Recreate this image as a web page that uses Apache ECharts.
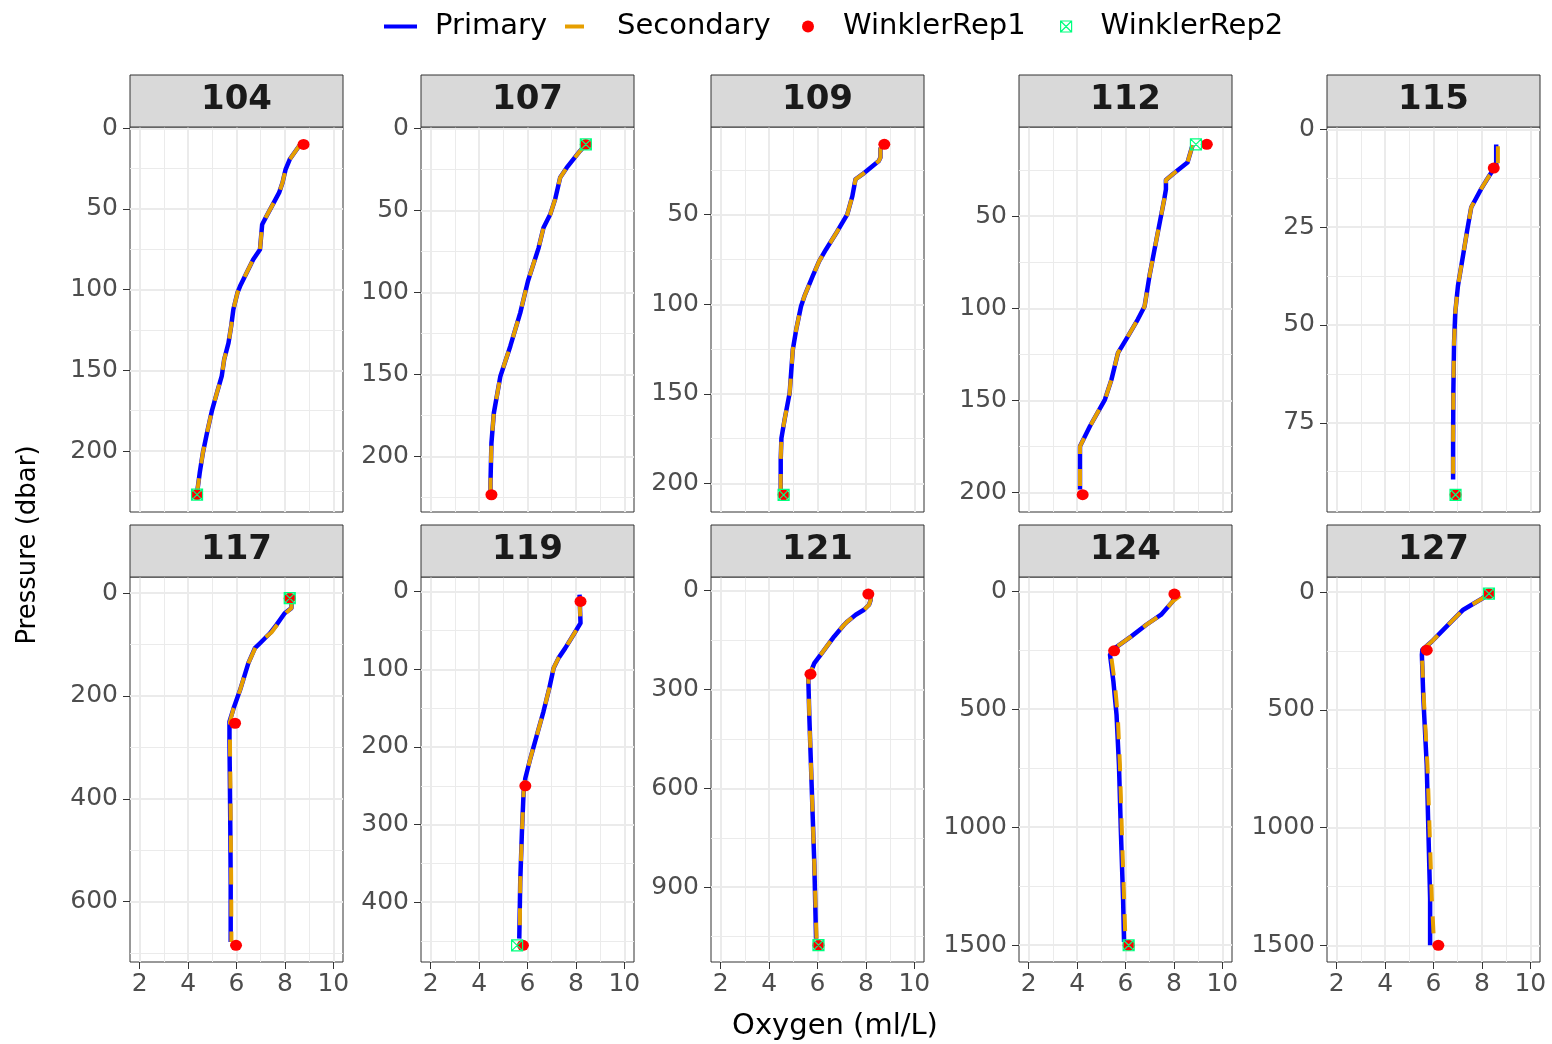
<!DOCTYPE html>
<html>
<head>
<meta charset="utf-8">
<script src="https://cdn.jsdelivr.net/npm/echarts@6/dist/echarts.min.js"></script>
<style>
html,body{margin:0;padding:0;background:#ffffff;}
#chart{width:1552px;height:1044px;}
</style>
</head>
<body>
<div id="chart"></div>
<script>
// ---------------- DATA ----------------
const stations = ['104','107','109','112','115','117','119','121','124','127'];

// Primary sensor profiles: [oxygen (ml/L), pressure (dbar)]
const primary104 = [[8.61,10.5],[8.20,19.2],[8.03,25.4],[7.90,33.7],[7.76,39.9],[7.54,46.1],[7.24,54.4],[7.06,59.6],[6.97,75.1],[6.69,81.3],[6.42,89.5],[6.15,97.8],[6.04,101.9],[5.87,112.3],[5.78,122.6],[5.67,133],[5.49,143.3],[5.39,153.6],[5.19,164],[4.98,175.3],[4.78,188.8],[4.61,201.2],[4.48,213.6],[4.37,226]];
const primary107 = [[8.41,9.8],[8.17,13.8],[7.62,24],[7.35,30],[7.14,43.3],[6.94,52.4],[6.66,60.6],[6.46,72.8],[6.02,93],[5.70,112.4],[5.29,132.7],[4.88,151],[4.61,173.4],[4.51,191.7],[4.47,216],[4.47,222]];
const primary109 = [[8.60,12.5],[8.60,18.1],[8.53,20],[7.85,27.5],[7.57,30.2],[7.44,39.6],[7.23,49.8],[6.82,59.2],[6.35,69.4],[6.07,75.9],[5.80,84.3],[5.46,95.5],[5.32,101.1],[5.12,114.1],[4.98,125.3],[4.85,149.5],[4.64,164.4],[4.51,174.7],[4.48,186.8],[4.48,203.6]];
const primary112 = [[8.77,11.6],[8.56,21.0],[7.95,27.3],[7.67,30.4],[7.67,35.5],[7.60,40.9],[7.44,51.8],[7.20,68.1],[6.99,82.5],[6.79,98.9],[6.51,106],[6.10,115.2],[5.69,124.2],[5.42,138.7],[5.15,149.5],[4.53,164],[4.12,174.9],[4.12,198.3]];
const primary115 = [[8.59,3.9],[8.59,9.2],[8.31,11.8],[7.97,15.2],[7.56,19.9],[7.40,25.5],[7.22,32.3],[7.01,40],[6.90,46.8],[6.85,54.5],[6.82,67.3],[6.81,80.1],[6.81,89.5]];
const primary117 = [[8.22,10],[8.27,19.5],[8.27,29],[7.99,39],[7.65,61.7],[7.38,78],[6.97,97.4],[6.76,107],[6.49,136],[6.15,188],[5.88,224],[5.71,250],[5.71,289],[5.74,432],[5.76,562],[5.76,678.6]];
const primary119 = [[8.15,3.9],[8.19,40.4],[7.90,55.5],[7.56,72.7],[7.28,85.6],[7.08,98.3],[6.90,124.3],[6.66,154.4],[6.39,184.5],[6.12,214.6],[5.91,240.4],[5.84,257.6],[5.77,309.2],[5.70,373.8],[5.66,446.9]];
const primary121 = [[8.15,12],[8.20,27.4],[8.13,42.6],[7.92,57.8],[7.58,73],[7.24,93.2],[7.10,103.4],[6.69,138.8],[6.28,179.4],[5.87,220],[5.62,265.5],[5.66,377],[5.73,529],[5.80,681],[5.87,833],[5.94,1056]];
const primary124 = [[8.05,15],[7.95,42.5],[7.47,99],[6.86,141.6],[6.24,191],[5.56,240.8],[5.36,269],[5.50,382],[5.63,524],[5.73,736.5],[5.81,1020],[5.90,1303],[5.94,1487]];
const primary127 = [[8.20,12],[8.05,25.5],[7.70,46.8],[7.23,75],[6.88,110.6],[6.34,167],[5.93,210],[5.54,245],[5.52,266.6],[5.58,451],[5.72,734.5],[5.79,1018],[5.86,1301.6],[5.86,1500]];

// Secondary sensor profiles
const secondary104 = [[8.61,10.5],[8.20,19.2],[8.03,25.4],[7.90,33.7],[7.76,39.9],[7.54,46.1],[7.24,54.4],[7.06,59.6],[6.97,75.1],[6.69,81.3],[6.42,89.5],[6.15,97.8],[6.04,101.9],[5.87,112.3],[5.78,122.6],[5.67,133],[5.49,143.3],[5.39,153.6],[5.19,164],[4.98,175.3],[4.78,188.8],[4.61,201.2],[4.48,213.6],[4.37,226]];
const secondary107 = [[8.41,9.8],[8.17,13.8],[7.62,24],[7.35,30],[7.14,43.3],[6.94,52.4],[6.66,60.6],[6.46,72.8],[6.02,93],[5.70,112.4],[5.29,132.7],[4.88,151],[4.61,173.4],[4.51,191.7],[4.47,216],[4.47,222]];
const secondary109 = [[8.60,12.5],[8.60,18.1],[8.53,20],[7.85,27.5],[7.57,30.2],[7.44,39.6],[7.23,49.8],[6.82,59.2],[6.35,69.4],[6.07,75.9],[5.80,84.3],[5.46,95.5],[5.32,101.1],[5.12,114.1],[4.98,125.3],[4.85,149.5],[4.64,164.4],[4.51,174.7],[4.48,186.8],[4.48,203.6]];
const secondary112 = [[8.77,11.6],[8.56,21.0],[7.95,27.3],[7.67,30.4],[7.67,35.5],[7.60,40.9],[7.44,51.8],[7.20,68.1],[6.99,82.5],[6.79,98.9],[6.51,106],[6.10,115.2],[5.69,124.2],[5.42,138.7],[5.15,149.5],[4.53,164],[4.12,174.9],[4.12,198.3]];
const secondary115 = [[8.66,4.3],[8.66,9.5],[8.31,11.8],[7.97,15.2],[7.56,19.9],[7.40,25.5],[7.22,32.3],[7.01,40],[6.90,46.8],[6.85,54.5],[6.82,67.3],[6.81,80.1],[6.81,89.5]];
const secondary117 = [[8.22,10],[8.27,19.5],[8.27,29],[8.05,38],[7.75,57],[7.45,76],[7.10,90],[6.80,104],[6.49,136],[6.15,188],[5.88,224],[5.73,250],[5.73,289],[5.76,432],[5.78,562],[5.79,678.6]];
const secondary119 = [[8.15,10],[8.19,40.4],[7.90,55.5],[7.56,72.7],[7.28,85.6],[7.08,98.3],[6.90,124.3],[6.66,154.4],[6.39,184.5],[6.12,214.6],[5.91,240.4],[5.84,257.6],[5.77,309.2],[5.70,373.8],[5.68,446.9]];
const secondary121 = [[8.15,12],[8.20,27.4],[8.13,42.6],[7.92,57.8],[7.58,73],[7.24,93.2],[7.10,103.4],[6.69,138.8],[6.28,179.4],[5.87,220],[5.62,265.5],[5.66,377],[5.73,529],[5.80,681],[5.87,833],[5.96,1056]];
const secondary124 = [[8.27,18],[7.95,42.5],[7.47,99],[6.86,141.6],[6.24,191],[5.56,240.8],[5.40,269],[5.55,382],[5.68,524],[5.77,736.5],[5.85,1020],[5.94,1303],[6.00,1487]];
const secondary127 = [[8.20,12],[8.05,25.5],[7.70,46.8],[7.23,75],[6.88,110.6],[6.34,167],[5.93,210],[5.54,245],[5.52,266.6],[5.60,451],[5.75,734.5],[5.84,1018],[5.93,1301.6],[6.02,1490]];

// Winkler titration replicates
const rep1_104 = [[8.77,10],[4.37,227]];
const rep2_104 = [[4.37,227]];
const rep1_107 = [[8.41,9.8],[4.51,223.2]];
const rep2_107 = [[8.41,9.8]];
const rep1_109 = [[8.76,10.7],[4.60,206.4]];
const rep2_109 = [[4.60,206.4]];
const rep1_112 = [[9.36,11.1],[4.23,201.1]];
const rep2_112 = [[8.91,11.1]];
const rep1_115 = [[8.49,9.9],[6.91,93.4]];
const rep2_115 = [[6.91,93.4]];
const rep1_117 = [[8.20,9.7],[5.94,253],[5.98,685]];
const rep2_117 = [[8.20,9.7]];
const rep1_119 = [[8.19,12.5],[5.91,250],[5.81,455.5]];
const rep2_119 = [[5.57,455.5]];
const rep1_121 = [[8.10,10.1],[5.71,253.4],[6.04,1076]];
const rep2_121 = [[6.04,1076]];
const rep1_124 = [[8.02,11.3],[5.53,252],[6.13,1501]];
const rep2_124 = [[6.13,1501]];
const rep1_127 = [[8.29,7.1],[5.72,247],[6.20,1500]];
const rep2_127 = [[8.29,7.1]];

// Tick labels
const xTicks = [2,4,6,8,10];
const xMinor = [3,5,7,9];
const yTicks104 = [0,50,100,150,200];   const yMinor104 = [25,75,125,175,225];
const yTicks107 = [0,50,100,150,200];   const yMinor107 = [25,75,125,175,225];
const yTicks109 = [50,100,150,200];     const yMinor109 = [25,75,125,175];
const yTicks112 = [50,100,150,200];     const yMinor112 = [25,75,125,175];
const yTicks115 = [0,25,50,75];         const yMinor115 = [12.5,37.5,62.5,87.5];
const yTicks117 = [0,200,400,600];      const yMinor117 = [100,300,500,700];
const yTicks119 = [0,100,200,300,400];  const yMinor119 = [50,150,250,350,450];
const yTicks121 = [0,300,600,900];      const yMinor121 = [150,450,750,1050];
const yTicks124 = [0,500,1000,1500];    const yMinor124 = [250,750,1250];
const yTicks127 = [0,500,1000,1500];    const yMinor127 = [250,750,1250];

// Axis limits (with ggplot-style expansion)
const xLimits = [1.6, 10.4];
const yMinList = [-0.8, -0.8, 1.0, 1.7, -0.6, -31.5, -18.9, -41.6, -60.9, -63.8];
const yMaxList = [237.8, 233.7, 216.0, 210.5, 97.8, 717.5, 477.0, 1127.0, 1572.0, 1571.0];

const primaryList   = [primary104, primary107, primary109, primary112, primary115, primary117, primary119, primary121, primary124, primary127];
const secondaryList = [secondary104, secondary107, secondary109, secondary112, secondary115, secondary117, secondary119, secondary121, secondary124, secondary127];
const rep1List = [rep1_104, rep1_107, rep1_109, rep1_112, rep1_115, rep1_117, rep1_119, rep1_121, rep1_124, rep1_127];
const rep2List = [rep2_104, rep2_107, rep2_109, rep2_112, rep2_115, rep2_117, rep2_119, rep2_121, rep2_124, rep2_127];
const yTickList  = [yTicks104, yTicks107, yTicks109, yTicks112, yTicks115, yTicks117, yTicks119, yTicks121, yTicks124, yTicks127];
const yMinorList = [yMinor104, yMinor107, yMinor109, yMinor112, yMinor115, yMinor117, yMinor119, yMinor121, yMinor124, yMinor127];

// ---------------- LAYOUT / STYLE ----------------
const FONT = 'DejaVu Sans';
const colLeft = [130, 421, 711, 1019, 1327];
const rowTop = [127, 577];
const panelW = 213, panelH = 385, stripH = 52;
const BLUE = '#0000FF', ORANGE = '#E69F00', RED = '#FF0000', GREEN = '#00FF7F';
const GRID_COL = '#EBEBEB';
const rep2Symbol = 'path://M0,0L10,0L10,10L0,10Z M0,0L10,10 M10,0L0,10';
const plainNum = v => String(v);

const grids = [], xAxes = [], yAxes = [], series = [], graphics = [];

stations.forEach((st, i) => {
  const col = i % 5, row = Math.floor(i / 5);
  const left = colLeft[col], top = rowTop[row];
  grids.push({left: left, top: top, width: panelW, height: panelH, show: true,
    borderColor: '#333333', borderWidth: 1, backgroundColor: '#FFFFFF'});

  const bottomRow = row === 1;
  // major x axis
  xAxes.push({
    gridIndex: i, type: 'value', min: xLimits[0], max: xLimits[1], position: 'bottom',
    axisLine: {show: false, onZero: false},
    axisTick: {show: bottomRow, customValues: xTicks, length: 7, lineStyle: {color: '#333333', width: 1}},
    axisLabel: {show: bottomRow, customValues: xTicks, formatter: plainNum, margin: 10, color: '#4D4D4D', fontSize: 25, fontFamily: FONT},
    splitLine: {show: true, lineStyle: {color: GRID_COL, width: 2}}
  });
  // minor x grid
  xAxes.push({
    gridIndex: i, type: 'value', min: xLimits[0], max: xLimits[1], position: 'top',
    axisLine: {show: false, onZero: false},
    axisTick: {show: false, customValues: xMinor},
    axisLabel: {show: false},
    splitLine: {show: true, lineStyle: {color: GRID_COL, width: 1}}
  });
  // major y axis
  yAxes.push({
    gridIndex: i, type: 'value', inverse: true, min: yMinList[i], max: yMaxList[i], position: 'left',
    axisLine: {show: false, onZero: false},
    axisTick: {show: true, customValues: yTickList[i], length: 7, lineStyle: {color: '#333333', width: 1}},
    axisLabel: {show: true, customValues: yTickList[i], formatter: plainNum, margin: 12, color: '#4D4D4D', fontSize: 25, fontFamily: FONT},
    splitLine: {show: true, lineStyle: {color: GRID_COL, width: 2}}
  });
  // minor y grid
  yAxes.push({
    gridIndex: i, type: 'value', inverse: true, min: yMinList[i], max: yMaxList[i], position: 'right',
    axisLine: {show: false, onZero: false},
    axisTick: {show: false, customValues: yMinorList[i]},
    axisLabel: {show: false},
    splitLine: {show: true, lineStyle: {color: GRID_COL, width: 1}}
  });

  series.push({
    name: 'Primary', type: 'line', xAxisIndex: 2 * i, yAxisIndex: 2 * i,
    data: primaryList[i], showSymbol: false, symbol: 'none', animation: false,
    itemStyle: {color: BLUE},
    lineStyle: {color: BLUE, width: 4.5, join: 'round'}, z: 3
  });
  series.push({
    name: 'Secondary', type: 'line', xAxisIndex: 2 * i, yAxisIndex: 2 * i,
    data: secondaryList[i], showSymbol: false, symbol: 'none', animation: false,
    itemStyle: {color: ORANGE},
    lineStyle: {color: ORANGE, width: 4, type: [17, 15], join: 'round'}, z: 4
  });
  series.push({
    name: 'WinklerRep1', type: 'scatter', xAxisIndex: 2 * i, yAxisIndex: 2 * i,
    data: rep1List[i], symbol: 'circle', symbolSize: [12, 11], animation: false,
    itemStyle: {color: RED, opacity: 1}, z: 5
  });
  series.push({
    name: 'WinklerRep2', type: 'scatter', xAxisIndex: 2 * i, yAxisIndex: 2 * i,
    data: rep2List[i], symbol: rep2Symbol, symbolSize: 11, animation: false,
    itemStyle: {color: 'transparent', borderColor: GREEN, borderWidth: 1.2, opacity: 1}, z: 6
  });

  graphics.push({
    type: 'rect', shape: {x: left, y: top - stripH, width: panelW, height: stripH},
    style: {fill: '#D9D9D9', stroke: '#333333', lineWidth: 1}, z: 10
  });
  graphics.push({
    type: 'text', x: left + panelW / 2, y: top - stripH / 2 - 1,
    style: {text: st, fill: '#1A1A1A', font: 'bold 34px "DejaVu Sans"', align: 'center', verticalAlign: 'middle'}, z: 11
  });
});

graphics.push({
  type: 'text', x: 28, y: 545, rotation: Math.PI / 2,
  style: {text: 'Pressure (dbar)', fill: '#000000', font: '26px "DejaVu Sans"', align: 'center', verticalAlign: 'middle'}
});
graphics.push({
  type: 'text', x: 835, y: 1026,
  style: {text: 'Oxygen (ml/L)', fill: '#000000', font: '29px "DejaVu Sans"', align: 'center', verticalAlign: 'middle'}
});

const legendText = (pad) => ({fontFamily: FONT, fontSize: 29, color: '#000000', padding: [0, 0, 0, pad]});
const legendTop = 12;
const legends = [
  {left: 384, top: legendTop, padding: 0, itemWidth: 33, itemHeight: 4, textStyle: legendText(13),
   data: [{name: 'Primary', icon: 'rect', itemStyle: {color: BLUE}}]},
  {left: 565, top: legendTop, padding: 0, itemWidth: 19, itemHeight: 4, textStyle: legendText(28),
   data: [{name: 'Secondary', icon: 'rect', itemStyle: {color: ORANGE}}]},
  {left: 802, top: legendTop, padding: 0, itemWidth: 12, itemHeight: 12, textStyle: legendText(24),
   data: [{name: 'WinklerRep1', icon: 'circle', itemStyle: {color: RED, opacity: 1}}]},
  {left: 1060, top: legendTop, padding: 0, itemWidth: 11, itemHeight: 11, textStyle: legendText(24),
   data: [{name: 'WinklerRep2', icon: rep2Symbol, itemStyle: {color: 'transparent', borderColor: GREEN, borderWidth: 1.2, opacity: 1}}]}
];

const chart = echarts.init(document.getElementById('chart'), null, {renderer: 'canvas'});
chart.setOption({
  backgroundColor: '#FFFFFF',
  animation: false,
  legend: legends,
  grid: grids,
  xAxis: xAxes,
  yAxis: yAxes,
  series: series,
  graphic: graphics
});
</script>
</body>
</html>
